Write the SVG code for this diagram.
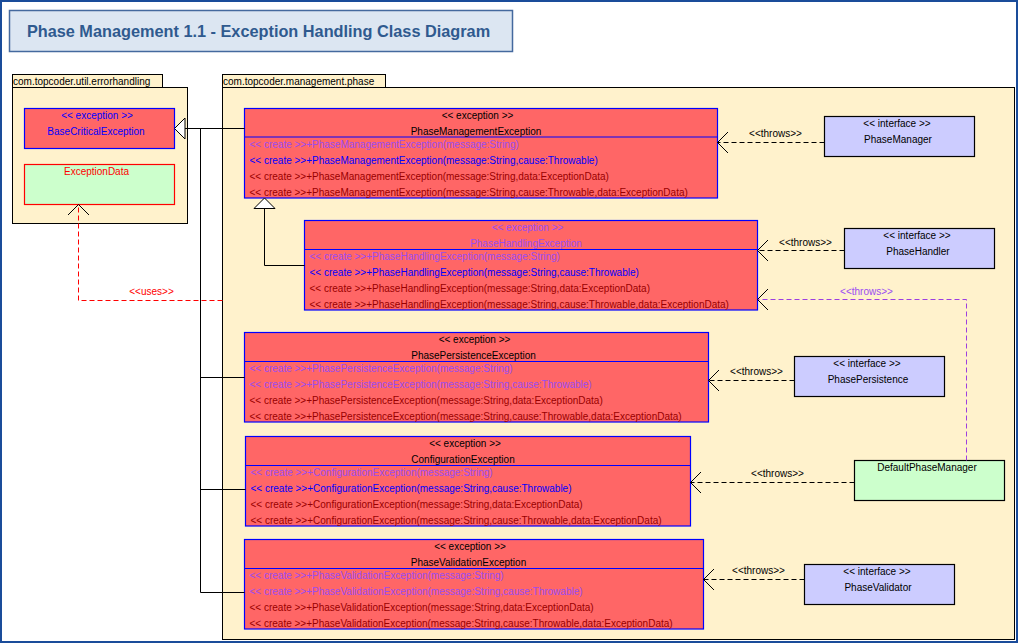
<svg xmlns="http://www.w3.org/2000/svg" width="1019" height="644" viewBox="0 0 1019 644">
<defs>
<style>
text{font-family:"Liberation Sans",Arial,sans-serif;font-size:10px;}
.frame{fill:#ffffff;stroke:#1a4c9a;stroke-width:2;}
.title-box{fill:#dce6f2;stroke:#44699e;stroke-width:1.5;}
.title{font-size:16.3px;font-weight:bold;fill:#2f5a8f;}
.pkg{fill:#fff2cc;stroke:#000;stroke-width:1;}
.exc{fill:#ff6666;stroke:#0000ff;stroke-width:1.2;}
.sep{stroke:#0000ff;stroke-width:1;}
.iface{fill:#ccccff;stroke:#000;stroke-width:1.2;}
.impl{fill:#ccffcc;stroke:#000;stroke-width:1.2;}
.data{fill:#ccffcc;stroke:#ff0000;stroke-width:1.2;}
.c{text-anchor:middle;}
.k{fill:#000;}
.b{fill:#0000ff;}
.p{fill:#9a4cf2;}
.r{fill:#990000;}
.red{fill:#ff0000;}
.gen{fill:none;stroke:#000;stroke-width:1;}
.tri{fill:#fff;stroke:#000;stroke-width:1;}
.dep{fill:none;stroke:#000;stroke-width:1;stroke-dasharray:5,3;marker-end:url(#open);}
.deppur{fill:none;stroke:#9d3fe0;stroke-width:1;stroke-dasharray:5,3;marker-end:url(#open);}
.depred{fill:none;stroke:#ff0000;stroke-width:1;stroke-dasharray:5,3;marker-end:url(#open);}
</style>
<marker id="open" markerUnits="userSpaceOnUse" markerWidth="24" markerHeight="24" viewBox="-12 -12 24 24" refX="0" refY="0" orient="auto" overflow="visible">
<path d="M-10.5,-10.5 L0,0 L-10.5,10.5" fill="none" stroke="#000" stroke-width="1"/>
</marker>
</defs>
<rect class="frame" x="1" y="1" width="1016" height="641"/>

<g id="title">
<rect class="title-box" x="9.5" y="10.5" width="503" height="41"/>
<text class="title c" x="258.5" y="37">Phase Management 1.1 - Exception Handling Class Diagram</text>
</g>

<g id="pkg-errorhandling">
<rect class="pkg" x="12.5" y="74.5" width="150" height="13"/>
<rect class="pkg" x="12.5" y="87.5" width="175" height="136"/>
<text class="k" x="13" y="85">com.topcoder.util.errorhandling</text>
</g>

<g id="pkg-phase">
<rect class="pkg" x="222.5" y="74.5" width="163" height="13"/>
<rect class="pkg" x="222.5" y="87.5" width="792" height="552"/>
<text class="k" x="223" y="85">com.topcoder.management.phase</text>
</g>

<g id="BaseCriticalException">
<rect class="exc" x="24.5" y="108.5" width="150" height="40"/>
<text class="b c" x="97" y="118.5">&lt;&lt; exception &gt;&gt;</text>
<text class="b c" x="96" y="135">BaseCriticalException</text>
</g>

<g id="ExceptionData">
<rect class="data" x="24.5" y="164.5" width="150" height="40"/>
<text class="red c" x="96.5" y="175">ExceptionData</text>
</g>

<g id="PhaseManagementException">
<rect class="exc" x="244.5" y="108.5" width="473" height="89.5"/>
<line class="sep" x1="244.5" y1="137" x2="717.5" y2="137"/>
<text class="k c" x="477.5" y="118.5">&lt;&lt; exception &gt;&gt;</text>
<text class="k c" x="476" y="135">PhaseManagementException</text>
<text class="p" x="249.5" y="148">&lt;&lt; create &gt;&gt;+PhaseManagementException(message:String)</text>
<text class="b" x="249.5" y="164">&lt;&lt; create &gt;&gt;+PhaseManagementException(message:String,cause:Throwable)</text>
<text class="r" x="249.5" y="180">&lt;&lt; create &gt;&gt;+PhaseManagementException(message:String,data:ExceptionData)</text>
<text class="r" x="249.5" y="196">&lt;&lt; create &gt;&gt;+PhaseManagementException(message:String,cause:Throwable,data:ExceptionData)</text>
</g>

<g id="PhaseHandlingException">
<rect class="exc" x="304.5" y="220.5" width="453" height="89.5"/>
<line class="sep" x1="304.5" y1="249.5" x2="757.5" y2="249.5"/>
<text class="p c" x="527.5" y="230.5">&lt;&lt; exception &gt;&gt;</text>
<text class="p c" x="526" y="247">PhaseHandlingException</text>
<text class="p" x="309.5" y="260">&lt;&lt; create &gt;&gt;+PhaseHandlingException(message:String)</text>
<text class="b" x="309.5" y="276">&lt;&lt; create &gt;&gt;+PhaseHandlingException(message:String,cause:Throwable)</text>
<text class="r" x="309.5" y="292">&lt;&lt; create &gt;&gt;+PhaseHandlingException(message:String,data:ExceptionData)</text>
<text class="r" x="309.5" y="308">&lt;&lt; create &gt;&gt;+PhaseHandlingException(message:String,cause:Throwable,data:ExceptionData)</text>
</g>

<g id="PhasePersistenceException">
<rect class="exc" x="244.5" y="332.5" width="464" height="89.5"/>
<line class="sep" x1="244.5" y1="361.5" x2="708.5" y2="361.5"/>
<text class="k c" x="474.5" y="342.5">&lt;&lt; exception &gt;&gt;</text>
<text class="k c" x="473.5" y="359">PhasePersistenceException</text>
<text class="p" x="249.5" y="372">&lt;&lt; create &gt;&gt;+PhasePersistenceException(message:String)</text>
<text class="p" x="249.5" y="388">&lt;&lt; create &gt;&gt;+PhasePersistenceException(message:String,cause:Throwable)</text>
<text class="r" x="249.5" y="404">&lt;&lt; create &gt;&gt;+PhasePersistenceException(message:String,data:ExceptionData)</text>
<text class="r" x="249.5" y="420">&lt;&lt; create &gt;&gt;+PhasePersistenceException(message:String,cause:Throwable,data:ExceptionData)</text>
</g>

<g id="ConfigurationException">
<rect class="exc" x="245.5" y="436.5" width="445" height="89.5"/>
<line class="sep" x1="245.5" y1="465.5" x2="690.5" y2="465.5"/>
<text class="k c" x="465" y="446.5">&lt;&lt; exception &gt;&gt;</text>
<text class="k c" x="463" y="463">ConfigurationException</text>
<text class="p" x="250.5" y="476">&lt;&lt; create &gt;&gt;+ConfigurationException(message:String)</text>
<text class="b" x="250.5" y="492">&lt;&lt; create &gt;&gt;+ConfigurationException(message:String,cause:Throwable)</text>
<text class="r" x="250.5" y="508">&lt;&lt; create &gt;&gt;+ConfigurationException(message:String,data:ExceptionData)</text>
<text class="r" x="250.5" y="524">&lt;&lt; create &gt;&gt;+ConfigurationException(message:String,cause:Throwable,data:ExceptionData)</text>
</g>

<g id="PhaseValidationException">
<rect class="exc" x="244.5" y="539.5" width="459" height="89.5"/>
<line class="sep" x1="244.5" y1="568.5" x2="703.5" y2="568.5"/>
<text class="k c" x="470" y="549.5">&lt;&lt; exception &gt;&gt;</text>
<text class="k c" x="468.5" y="566">PhaseValidationException</text>
<text class="p" x="249.5" y="579">&lt;&lt; create &gt;&gt;+PhaseValidationException(message:String)</text>
<text class="p" x="249.5" y="595">&lt;&lt; create &gt;&gt;+PhaseValidationException(message:String,cause:Throwable)</text>
<text class="r" x="249.5" y="611">&lt;&lt; create &gt;&gt;+PhaseValidationException(message:String,data:ExceptionData)</text>
<text class="r" x="249.5" y="627">&lt;&lt; create &gt;&gt;+PhaseValidationException(message:String,cause:Throwable,data:ExceptionData)</text>
</g>

<g id="PhaseManager">
<rect class="iface" x="824.5" y="116.5" width="150" height="40"/>
<text class="k c" x="897" y="127">&lt;&lt; interface &gt;&gt;</text>
<text class="k c" x="898" y="143">PhaseManager</text>
</g>

<g id="PhaseHandler">
<rect class="iface" x="844.5" y="228.5" width="150" height="40"/>
<text class="k c" x="917" y="239">&lt;&lt; interface &gt;&gt;</text>
<text class="k c" x="918" y="255">PhaseHandler</text>
</g>

<g id="PhasePersistence">
<rect class="iface" x="794.5" y="356.5" width="150" height="40"/>
<text class="k c" x="867" y="367">&lt;&lt; interface &gt;&gt;</text>
<text class="k c" x="868" y="383">PhasePersistence</text>
</g>

<g id="DefaultPhaseManager">
<rect class="impl" x="854.5" y="460.5" width="150" height="40"/>
<text class="k c" x="927" y="471">DefaultPhaseManager</text>
</g>

<g id="PhaseValidator">
<rect class="iface" x="804.5" y="564.5" width="150" height="40"/>
<text class="k c" x="877" y="575">&lt;&lt; interface &gt;&gt;</text>
<text class="k c" x="878" y="591">PhaseValidator</text>
</g>

<g id="connectors">
<polyline class="gen" points="185,128.5 244.5,128.5"/>
<polyline class="gen" points="200.5,128.5 200.5,592.5"/>
<polyline class="gen" points="200.5,377.5 244.5,377.5"/>
<polyline class="gen" points="200.5,489.5 245.5,489.5"/>
<polyline class="gen" points="200.5,592.5 244.5,592.5"/>
<polygon class="tri" points="174.5,128.5 185,118 185,139"/>
<polyline class="gen" points="264.5,208.5 264.5,265.5 304.5,265.5"/>
<polygon class="tri" points="264.5,198 254,208.5 275,208.5"/>
<polyline class="depred" points="222.5,300.5 78.5,300.5 78.5,204.5"/>
<text class="red c" x="151.5" y="295">&lt;&lt;uses&gt;&gt;</text>
<polyline class="dep" points="824.5,142.5 717.5,142.5"/>
<text class="k c" x="775.5" y="137">&lt;&lt;throws&gt;&gt;</text>
<polyline class="dep" points="844.5,250.5 757.5,250.5"/>
<text class="k c" x="805.5" y="246">&lt;&lt;throws&gt;&gt;</text>
<polyline class="deppur" points="966.5,460.5 966.5,299.5 757.5,299.5"/>
<text class="p c" x="866.5" y="294.5">&lt;&lt;throws&gt;&gt;</text>
<polyline class="dep" points="794.5,380.5 708.5,380.5"/>
<text class="k c" x="756.5" y="375">&lt;&lt;throws&gt;&gt;</text>
<polyline class="dep" points="854.5,482.5 690.5,482.5"/>
<text class="k c" x="777.5" y="477">&lt;&lt;throws&gt;&gt;</text>
<polyline class="dep" points="804.5,579.5 703.5,579.5"/>
<text class="k c" x="758.5" y="573.5">&lt;&lt;throws&gt;&gt;</text>
</g>
</svg>
